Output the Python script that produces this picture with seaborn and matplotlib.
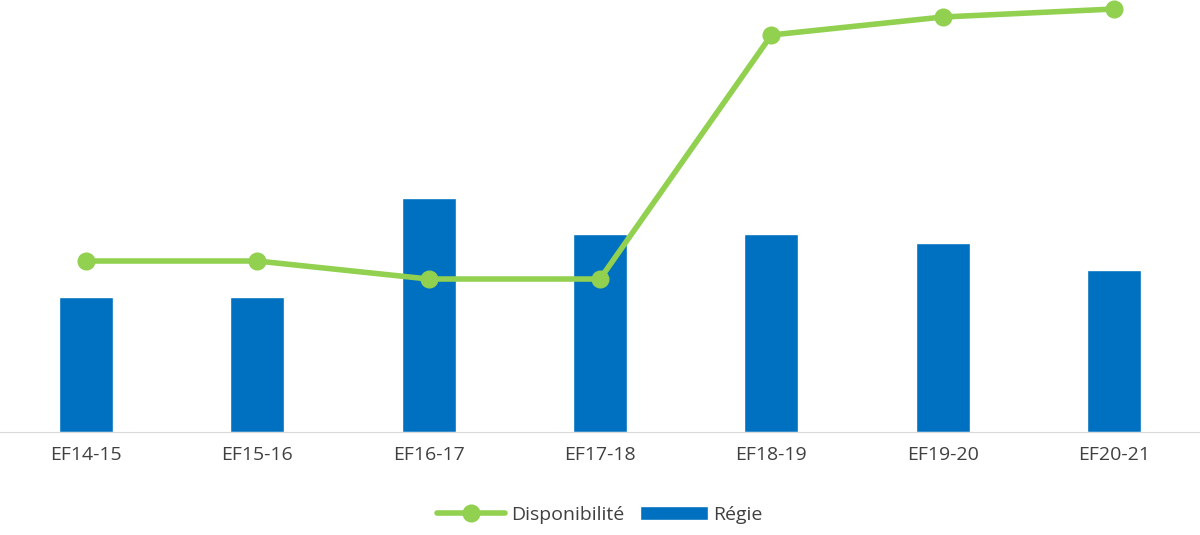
import matplotlib
matplotlib.use("Agg")
import matplotlib.pyplot as plt
import seaborn as sns
import pandas as pd

categories = ["EF14-15", "EF15-16", "EF16-17", "EF17-18", "EF18-19", "EF19-20", "EF20-21"]
regie = [135, 135, 234, 198, 198, 189, 162]
disponibilite = [171, 171, 153, 153, 397, 415, 423]

sns.set_style("white")
plt.rcParams['font.family'] = ['Open Sans', 'DejaVu Sans']

fig = plt.figure(figsize=(12, 5.35), dpi=100)
ax = fig.add_axes([0, 0.1925, 1, 0.8075])
df = pd.DataFrame({"cat": categories, "regie": regie, "dispo": disponibilite})
sns.barplot(data=df, x="cat", y="regie", color="#0070C0", saturation=1, width=0.315, ax=ax, label="Régie")
ax.plot(range(len(categories)), disponibilite, color="#92D050", lw=4, marker="o", ms=12,
        label="Disponibilité", zorder=5, clip_on=False)
ax.set_xlim(-0.5, 6.5)
ax.set_ylim(0, 432)
ax.set_xlabel(""); ax.set_ylabel("")
ax.set_yticks([])
for s in ["top", "left", "right"]:
    ax.spines[s].set_visible(False)
ax.spines["bottom"].set_color("#D9D9D9")
ax.tick_params(axis="x", length=0, labelsize=14, colors="#404040", pad=10)
ax.legend(loc="upper center", bbox_to_anchor=(0.5, -0.13), ncol=2, frameon=False,
          fontsize=14, labelcolor="#404040", handlelength=3.5, columnspacing=0.8, handletextpad=0.3)
fig.savefig("out.png")
